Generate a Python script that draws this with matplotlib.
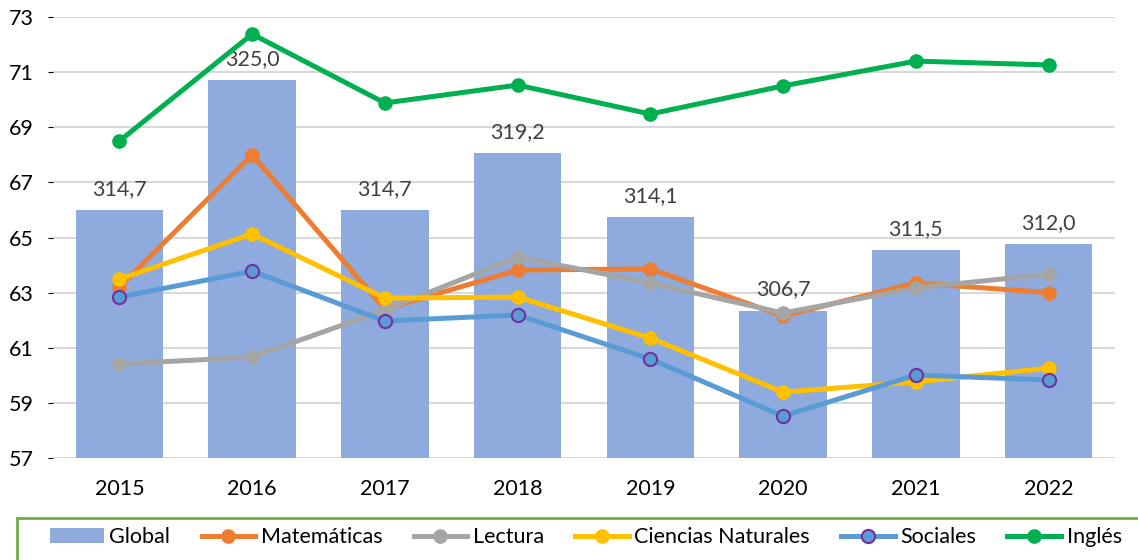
import matplotlib
matplotlib.use("Agg")
import matplotlib.pyplot as plt
from matplotlib.patches import Rectangle
import numpy as np

plt.rcParams['font.family'] = ['Lato', 'DejaVu Sans']

# data
years = ["2015", "2016", "2017", "2018", "2019", "2020", "2021", "2022"]
global_score = [314.7, 325.0, 314.7, 319.2, 314.1, 306.7, 311.5, 312.0]
matematicas = [63.2, 68.0, 62.4, 63.82, 63.86, 62.15, 63.35, 63.0]
lectura = [60.41, 60.66, 62.37, 64.29, 63.35, 62.26, 63.17, 63.67]
ciencias = [63.49, 65.13, 62.8, 62.84, 61.35, 59.39, 59.76, 60.26]
sociales = [62.84, 63.78, 61.97, 62.19, 60.59, 58.52, 60.01, 59.83]
ingles = [68.5, 72.38, 69.88, 70.53, 69.48, 70.5, 71.4, 71.26]

x = np.arange(len(years))
fs = 15.5

fig = plt.figure(figsize=(11.38, 5.6), dpi=100)
ax = fig.add_axes([53/1138, 1-458/560, (1115-53)/1138, (458-17)/560])

# bars on the hidden global scale
bars = ax.bar(x, global_score, width=0.66, color="#8FAADC", label="Global", zorder=2)
ax.set_ylim(295, 330)
ax.set_xlim(-0.5, len(years) - 0.5)
ax.set_yticks(np.linspace(295, 330, 9))
ax.yaxis.grid(True, color="#D9D9D9", lw=1.5, zorder=0)
ax.set_axisbelow(True)
ax.tick_params(axis="y", left=False, labelleft=False)
ax.tick_params(axis="x", length=0, labelsize=fs, pad=15, colors="black")
ax.set_xticks(x)
ax.set_xticklabels(years)
for s in ax.spines.values():
    s.set_visible(False)
ax.bar_label(bars, labels=[f"{v:.1f}".replace(".", ",") for v in global_score],
             padding=8, fontsize=fs, color="#404040", zorder=3)

# lines on the visible scale
ax2 = ax.twinx()
ax2.set_ylim(57, 73)
ax2.set_yticks(range(57, 74, 2))
ax2.yaxis.tick_left()
ax2.tick_params(axis="y", length=0, labelsize=fs, pad=14, colors="black")
for s in ax2.spines.values():
    s.set_visible(False)

lw = 3.6
ms = 9.5
ax2.plot(x, matematicas, color="#ED7D31", lw=lw, marker="o", ms=ms, label="Matemáticas")
ax2.plot(x, lectura, color="#A5A5A5", lw=lw, marker="o", ms=ms, label="Lectura")
ax2.plot(x, ciencias, color="#FFC000", lw=lw, marker="o", ms=ms, label="Ciencias Naturales")
ax2.plot(x, sociales, color="#5B9BD5", lw=lw, marker="o", ms=ms,
         mfc="#5B9BD5", mec="#7030A0", mew=1.5, label="Sociales")
ax2.plot(x, ingles, color="#00B050", lw=lw, marker="o", ms=ms, label="Inglés")

# legend with green frame running off the figure
h1, l1 = ax.get_legend_handles_labels()
h2, l2 = ax2.get_legend_handles_labels()
fig.legend(h1 + h2, l1 + l2, loc="center", bbox_to_anchor=(586/1138, 1-537/560),
           ncol=6, frameon=False, fontsize=fs, handlelength=2.5,
           handletextpad=0.25, columnspacing=1.45, handleheight=0.65)
fig.patches.append(Rectangle((17/1138, -0.05), 1.0, (560-518)/560 + 0.05,
                             transform=fig.transFigure, fill=False,
                             edgecolor="#70AD47", lw=2))

fig.savefig("out.png", dpi=100)
